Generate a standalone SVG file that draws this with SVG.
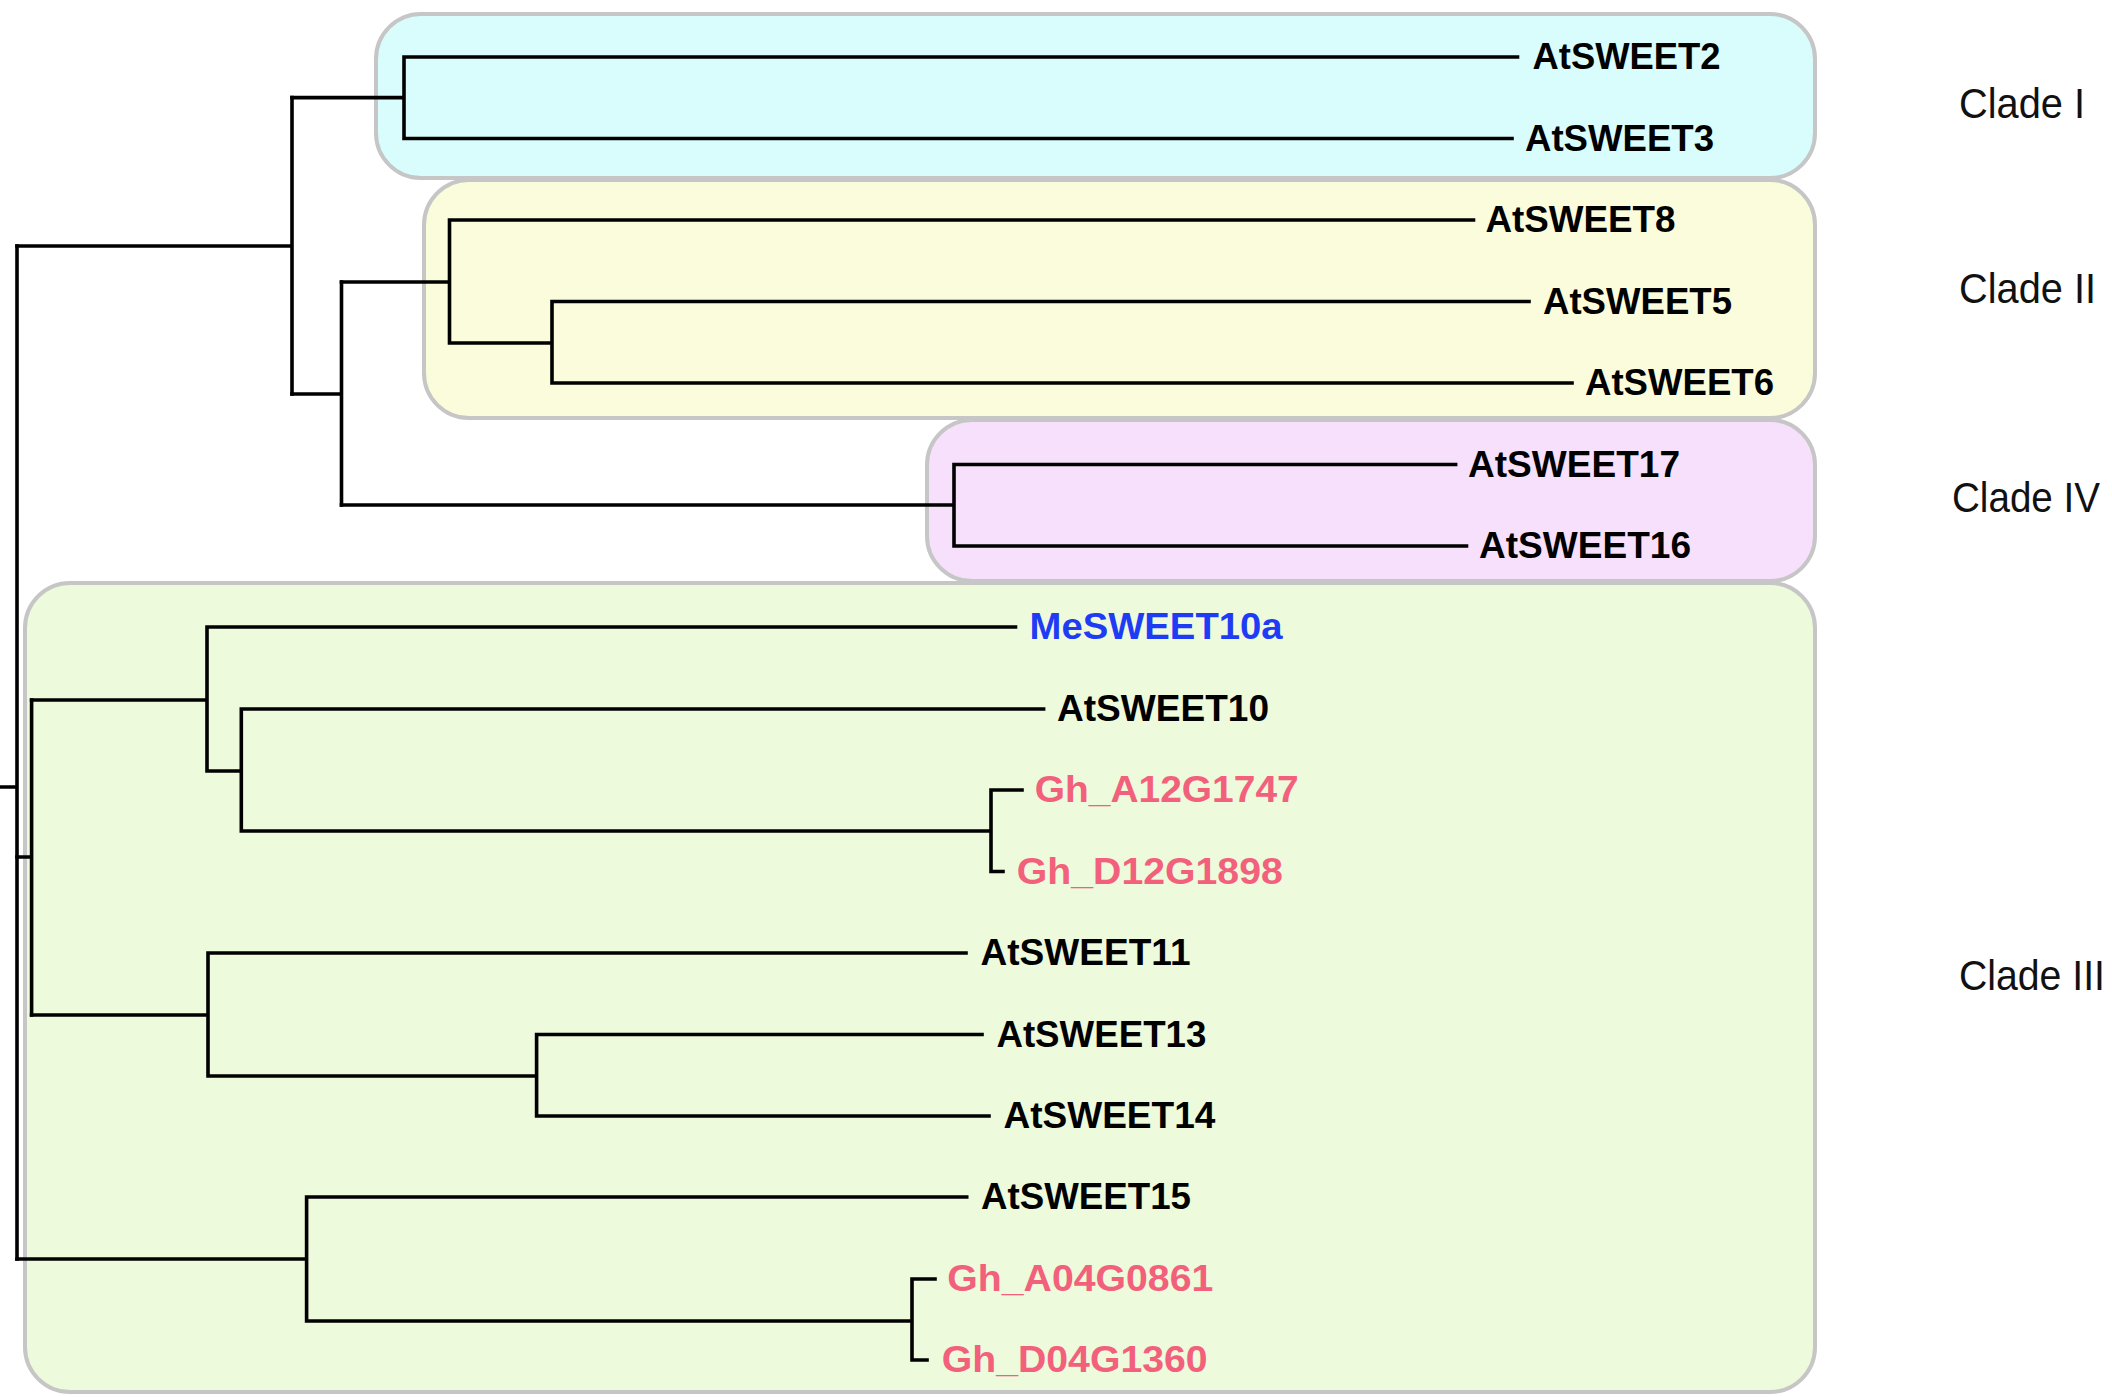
<svg xmlns="http://www.w3.org/2000/svg" width="2112" height="1397" viewBox="0 0 2112 1397">
<style>
.box{stroke:#c6c6c6;stroke-width:4}
.br{fill:none;stroke:#000;stroke-width:3.6;stroke-linejoin:miter;stroke-linecap:square}
.lf{font-family:"Liberation Sans",Arial,sans-serif;font-weight:bold;font-size:37px;fill:#000}
.me{fill:#1f3cf5}
.gh{fill:#f2607c}
.cl{font-family:"Liberation Sans",Arial,sans-serif;font-size:42px;fill:#111}
</style>
<rect width="2112" height="1397" fill="#fff"/>
<g id="clade-boxes">
<rect id="box-clade-I" class="box" x="376" y="14" width="1439" height="164" rx="45" fill="#d9fcfc"/>
<rect id="box-clade-II" class="box" x="424" y="180" width="1391" height="238" rx="45" fill="#fbfcdb"/>
<rect id="box-clade-IV" class="box" x="927" y="420" width="888" height="161" rx="45" fill="#f7e0fb"/>
<rect id="box-clade-III" class="box" x="25" y="583" width="1790" height="809" rx="45" fill="#edfadb"/>
</g>
<g id="connectors">
<path class="br" d="M0,787 H17 M17,246 V1259"/>
<path class="br" d="M17,246 H292 M292,97.6 V394"/>
<path class="br" d="M292,97.6 H404 M1517.5,57 H404 V138.5 H1512"/>
<path class="br" d="M292,394 H341.5 M341.5,282 V505"/>
<path class="br" d="M341.5,282 H449.5 M1473.5,220 H449.5 V343 H552 M1529,301.5 H552 V383 H1572"/>
<path class="br" d="M341.5,505 H954 M1455.6,464.5 H954 V546 H1466.5"/>
<path class="br" d="M17,857 H31.6 M31.6,700 V1015"/>
<path class="br" d="M31.6,700 H207 M1015.5,627 H207 V771 H241.3 M1043.6,709 H241.3 V831 H991 M1022,790 H991 V871.5 H1003"/>
<path class="br" d="M31.6,1015 H208 M966,953 H208 V1076 H536.6 M982,1034.5 H536.6 V1116 H989"/>
<path class="br" d="M17,1259 H306.6 M966.7,1197 H306.6 V1321 H912 M935,1279 H912 V1360 H927"/>
</g>
<g id="leaves">
<g id="AtSWEET2"><text class="lf" x="1532.5" y="69" textLength="188" lengthAdjust="spacingAndGlyphs">AtSWEET2</text></g>
<g id="AtSWEET3"><text class="lf" x="1525" y="150.5" textLength="189" lengthAdjust="spacingAndGlyphs">AtSWEET3</text></g>
<g id="AtSWEET8"><text class="lf" x="1485.5" y="232" textLength="190" lengthAdjust="spacingAndGlyphs">AtSWEET8</text></g>
<g id="AtSWEET5"><text class="lf" x="1543" y="313.5" textLength="189" lengthAdjust="spacingAndGlyphs">AtSWEET5</text></g>
<g id="AtSWEET6"><text class="lf" x="1585" y="395" textLength="189" lengthAdjust="spacingAndGlyphs">AtSWEET6</text></g>
<g id="AtSWEET17"><text class="lf" x="1468" y="476.5" textLength="212" lengthAdjust="spacingAndGlyphs">AtSWEET17</text></g>
<g id="AtSWEET16"><text class="lf" x="1479" y="558" textLength="212" lengthAdjust="spacingAndGlyphs">AtSWEET16</text></g>
<g id="MeSWEET10a"><text class="lf me" x="1029.6" y="639" textLength="253" lengthAdjust="spacingAndGlyphs">MeSWEET10a</text></g>
<g id="AtSWEET10"><text class="lf" x="1057" y="721" textLength="212" lengthAdjust="spacingAndGlyphs">AtSWEET10</text></g>
<g id="Gh_A12G1747"><text class="lf gh" x="1034.7" y="802" textLength="264" lengthAdjust="spacingAndGlyphs">Gh_A12G1747</text></g>
<g id="Gh_D12G1898"><text class="lf gh" x="1016.8" y="883.5" textLength="266" lengthAdjust="spacingAndGlyphs">Gh_D12G1898</text></g>
<g id="AtSWEET11"><text class="lf" x="980.5" y="965" textLength="210" lengthAdjust="spacingAndGlyphs">AtSWEET11</text></g>
<g id="AtSWEET13"><text class="lf" x="996.4" y="1046.5" textLength="210" lengthAdjust="spacingAndGlyphs">AtSWEET13</text></g>
<g id="AtSWEET14"><text class="lf" x="1003.4" y="1128" textLength="212" lengthAdjust="spacingAndGlyphs">AtSWEET14</text></g>
<g id="AtSWEET15"><text class="lf" x="981" y="1209" textLength="210" lengthAdjust="spacingAndGlyphs">AtSWEET15</text></g>
<g id="Gh_A04G0861"><text class="lf gh" x="947.3" y="1291" textLength="266" lengthAdjust="spacingAndGlyphs">Gh_A04G0861</text></g>
<g id="Gh_D04G1360"><text class="lf gh" x="941.7" y="1372" textLength="266" lengthAdjust="spacingAndGlyphs">Gh_D04G1360</text></g>
</g>
<g id="clade-labels">
<text class="cl" x="1959" y="117.5" textLength="126" lengthAdjust="spacingAndGlyphs">Clade I</text>
<text class="cl" x="1959" y="303" textLength="137" lengthAdjust="spacingAndGlyphs">Clade II</text>
<text class="cl" x="1952" y="512" textLength="148" lengthAdjust="spacingAndGlyphs">Clade IV</text>
<text class="cl" x="1959" y="990" textLength="146" lengthAdjust="spacingAndGlyphs">Clade III</text>
</g>
</svg>
